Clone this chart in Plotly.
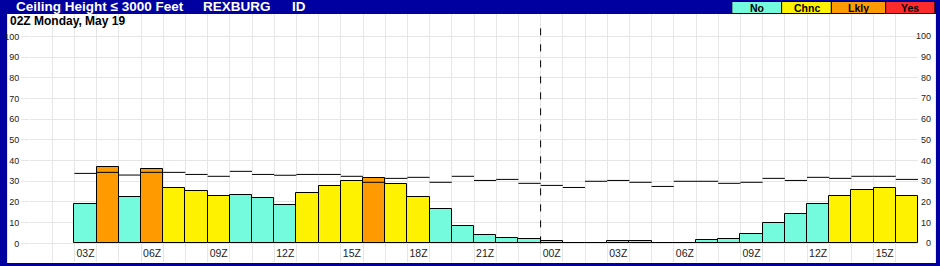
import plotly.graph_objects as go

# ---------------- data ----------------
bar_values = [19.0, 36.7, 22.2, 35.7, 26.6, 25.1, 22.7, 23.2, 21.7, 18.4,
              24.2, 27.5, 30.0, 31.4, 28.6, 22.2, 16.4, 8.2, 3.9, 2.4,
              1.9, 1.0, 0.0, 0.0, 1.0, 1.0, 0.0, 0.0, 1.4, 1.9,
              4.3, 9.7, 14.0, 18.8, 22.7, 25.6, 26.6, 22.7]
bar_categories = ["No", "Lkly", "No", "Lkly", "Chnc", "Chnc", "Chnc", "No", "No", "No",
                  "Chnc", "Chnc", "Chnc", "Lkly", "Chnc", "Chnc", "No", "No", "No", "No",
                  "No", "No", "No", "No", "No", "No", "No", "No", "No", "No",
                  "No", "No", "No", "No", "Chnc", "Chnc", "Chnc", "Chnc"]
line_values = [33.8, 34.3, 33.0, 34.3, 34.3, 33.3, 32.4, 34.8, 33.3, 32.9,
               33.3, 33.3, 32.4, 29.5, 31.4, 31.9, 29.5, 32.4, 30.4, 30.9,
               29.0, 28.0, 27.0, 30.0, 30.4, 29.5, 27.5, 30.0, 30.0, 29.0,
               29.5, 31.4, 30.4, 31.9, 31.4, 32.4, 32.4, 30.9]
tick_positions = [0, 3, 6, 9, 12, 15, 18, 21, 24, 27, 30, 33, 36]
tick_labels = ["03Z", "06Z", "09Z", "12Z", "15Z", "18Z", "21Z",
               "00Z", "03Z", "06Z", "09Z", "12Z", "15Z"]
y_ticks = [0, 10, 20, 30, 40, 50, 60, 70, 80, 90, 100]
legend_names = ["No", "Chnc", "Lkly", "Yes"]
day_break = 20.5

colors = {"No": "#74FADC", "Chnc": "#FFF200", "Lkly": "#FF9A00", "Yes": "#FF2B2B"}
BLUE = "#0000A0"
GRID = "#E6E6E6"
FONT = "Liberation Sans, Arial, sans-serif"

W, H = 940, 266
L, R, T, B = 26, 918, 14, 262   # plot area in pixels


def px2x(px):
    return (px - L) / (R - L)


def py2y(py):
    return (B - py) / (B - T)


xs = list(range(len(bar_values)))

fig = go.Figure()
fig.add_trace(go.Bar(
    x=xs, y=bar_values, width=1,
    marker=dict(color=[colors[c] for c in bar_categories],
                line=dict(color="black", width=1)),
    hoverinfo="skip", showlegend=False))

seg_x, seg_y = [], []
for i, v in zip(xs, line_values):
    seg_x += [i - 0.5, i + 0.5, None]
    seg_y += [v, v, None]
fig.add_trace(go.Scatter(x=seg_x, y=seg_y, mode="lines",
                         line=dict(color="black", width=1),
                         hoverinfo="skip", showlegend=False))

shapes = []
# white page area inside blue frame
shapes.append(dict(type="rect", xref="paper", yref="paper",
                   x0=px2x(3), x1=px2x(936), y0=py2y(263), y1=py2y(14),
                   fillcolor="white", line=dict(width=0), layer="below"))
# day break dashed line
shapes.append(dict(type="line", xref="x", yref="y", x0=day_break, x1=day_break,
                   y0=0, y1=107, line=dict(color="black", width=1, dash="7px,9px")))

annotations = []
# legend boxes
box_edges = [731, 781, 831, 885.5, 935]
for i, name in enumerate(legend_names):
    shapes.append(dict(type="rect", xref="paper", yref="paper",
                       x0=px2x(box_edges[i]), x1=px2x(box_edges[i + 1]),
                       y0=py2y(13.5), y1=py2y(1.5),
                       fillcolor=colors[name], line=dict(color="black", width=1),
                       layer="above"))
    annotations.append(dict(xref="paper", yref="paper",
                            x=px2x((box_edges[i] + box_edges[i + 1]) / 2), y=py2y(7.5),
                            text="<b>%s</b>" % name, showarrow=False,
                            xanchor="center", yanchor="middle",
                            font=dict(family=FONT, size=10.5, color="black")))

# title bar text
for txt, px in [("Ceiling Height ≤ 3000 Feet", 10), ("REXBURG", 198), ("ID", 287)]:
    annotations.append(dict(xref="paper", yref="paper", x=px2x(px), y=py2y(7),
                            text="<b>%s</b>" % txt, showarrow=False,
                            xanchor="left", yanchor="middle",
                            font=dict(family=FONT, size=13.5, color="white")))

# subtitle
annotations.append(dict(xref="paper", yref="paper", x=px2x(4), y=py2y(21),
                        text="<b>02Z Monday, May 19</b>", showarrow=False,
                        xanchor="left", yanchor="middle",
                        font=dict(family=FONT, size=12, color="black")))

# right-side value labels
for v in y_ticks:
    annotations.append(dict(xref="paper", yref="y", x=px2x(933.5), y=v,
                            text=str(v), showarrow=False,
                            xanchor="right", yanchor="middle",
                            font=dict(family=FONT, size=9, color="#222")))

fig.update_layout(
    width=W, height=H, autosize=False,
    margin=dict(l=L, r=W - R, t=T, b=H - B, pad=0),
    paper_bgcolor=BLUE, plot_bgcolor="white",
    bargap=0, showlegend=False,
    shapes=shapes, annotations=annotations,
    xaxis=dict(range=[-2.5, 37.5], tickvals=tick_positions, ticktext=tick_labels,
               showgrid=False, zeroline=False, showline=False, ticks="",
               ticklabelposition="inside",
               tickfont=dict(family=FONT, size=10.5, color="#222"),
               minor=dict(tick0=-0.5, dtick=1, showgrid=True, gridcolor=GRID,
                          gridwidth=1, ticks="")),
    yaxis=dict(range=[-9.0, 110.8], tickvals=y_ticks, showgrid=True, gridcolor=GRID,
               gridwidth=1, zeroline=False, showline=False,
               ticks="outside", ticklen=8, tickcolor=GRID, tickwidth=1,
               tickfont=dict(family=FONT, size=9, color="#222")),
)

fig.write_html("out.html")
